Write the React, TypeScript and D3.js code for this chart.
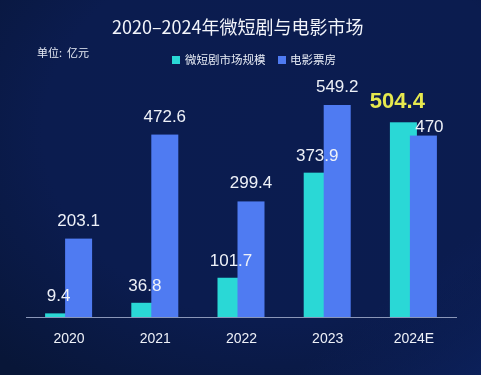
import React from "react";
import * as d3 from "d3";

const years = ["2020", "2021", "2022", "2023", "2024E"];
const shortDrama = [9.4, 36.8, 101.7, 373.9, 504.4];
const boxOffice = [203.1, 472.6, 299.4, 549.2, 470];
const seriesNames = ["微短剧市场规模", "电影票房"];
const title = "2020–2024年微短剧与电影市场";
const unitLabel = "单位:  亿元";

const W = 481;
const H = 375;
const TEAL = "#2ad8d6";
const BLUE = "#4f7bf2";

export default function App() {
  const x = d3.scaleBand<string>().domain(years).range([26, 457]).padding(0);
  const y = d3.scaleLinear().domain([0, 549.2]).range([317, 105]);
  const barW = 27;
  const font = "'Liberation Sans', Arial, sans-serif";
  const cjk = "'Noto Sans CJK SC', 'Noto Sans', sans-serif";

  return (
    <svg
      width={W}
      height={H}
      style={{ position: "fixed", left: 0, top: 0 }}
      viewBox={`0 0 ${W} ${H}`}
    >
      <defs>
        <radialGradient id="bg" cx="0.6" cy="0.35" r="0.85">
          <stop offset="0" stopColor="#0b1c50" />
          <stop offset="0.6" stopColor="#0b1c4f" />
          <stop offset="1" stopColor="#081638" />
        </radialGradient>
        <linearGradient id="bg2" x1="0" y1="0" x2="1" y2="1">
          <stop offset="0" stopColor="#0d2262" stopOpacity="0" />
          <stop offset="0.8" stopColor="#0d2262" stopOpacity="0" />
          <stop offset="1" stopColor="#0d2466" stopOpacity="0.7" />
        </linearGradient>
      </defs>
      <rect width={W} height={H} fill="url(#bg)" />
      <rect width={W} height={H} fill="url(#bg2)" />

      <text
        x={112}
        y={34}
        fill="#f2f4fa"
        fontFamily={cjk}
        fontSize={18}
        fontWeight={400}
      >
        {title}
      </text>
      <text x={37} y={57} fill="#e8ecf5" fontFamily={cjk} fontSize={11} style={{ whiteSpace: "pre" }}>
        {unitLabel}
      </text>

      <g fontFamily={cjk} fontSize={11.5} fill="#e8ecf5">
        <rect x={172} y={56} width={8} height={8} fill={TEAL} />
        <text x={185} y={64}>
          {seriesNames[0]}
        </text>
        <rect x={278} y={56} width={8} height={8} fill={BLUE} />
        <text x={290} y={64}>
          {seriesNames[1]}
        </text>
      </g>

      {years.map((yr, i) => {
        const cx = (x(yr) as number) + x.bandwidth() / 2;
        const tx = cx - 24;
        const bx = cx - 4;
        const isLast = i === years.length - 1;
        return (
          <g key={yr}>
            <rect
              x={tx}
              y={y(shortDrama[i])}
              width={barW}
              height={317 - y(shortDrama[i])}
              fill={TEAL}
            />
            <rect
              x={bx}
              y={y(boxOffice[i])}
              width={barW}
              height={317 - y(boxOffice[i])}
              fill={BLUE}
            />
            <text
              x={tx + barW / 2 - (isLast ? 6 : 0)}
              y={y(shortDrama[i]) - (isLast ? 14 : 12)}
              textAnchor="middle"
              fill={isLast ? "#e6e84e" : "#eef1f8"}
              fontFamily={font}
              fontSize={isLast ? 22 : 17}
              fontWeight={isLast ? 700 : 400}
            >
              {shortDrama[i]}
            </text>
            <text
              x={bx + barW / 2 + (isLast ? 6 : 0)}
              y={y(boxOffice[i]) - (isLast ? 4 : 13)}
              textAnchor="middle"
              fill="#eef1f8"
              fontFamily={font}
              fontSize={17}
            >
              {boxOffice[i]}
            </text>
            <text
              x={cx}
              y={343}
              textAnchor="middle"
              fill="#eef1f8"
              fontFamily={font}
              fontSize={14}
            >
              {yr}
            </text>
          </g>
        );
      })}
      <line x1={26} x2={457} y1={317.5} y2={317.5} stroke="#8a96b8" strokeWidth={1} />
    </svg>
  );
}
